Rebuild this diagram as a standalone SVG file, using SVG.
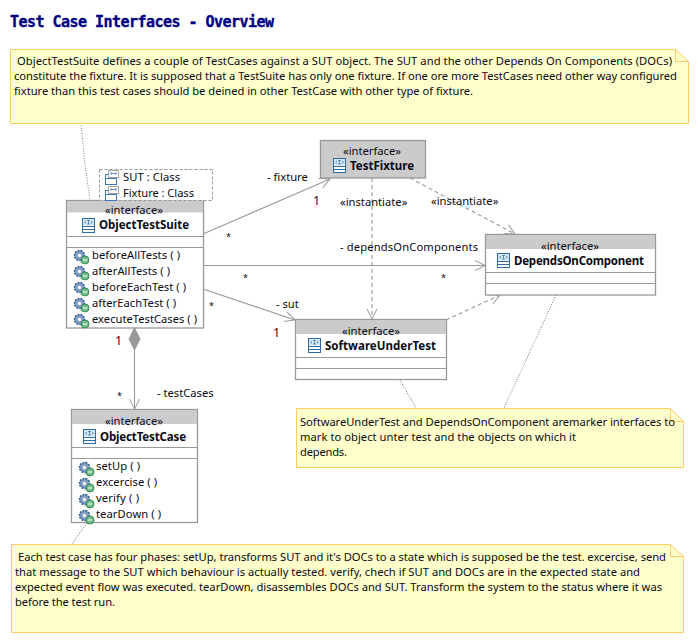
<svg xmlns="http://www.w3.org/2000/svg" xmlns:xlink="http://www.w3.org/1999/xlink" width="698" height="642" viewBox="0 0 698 642">
<style>
text{font-family:"Noto Sans","Liberation Sans",sans-serif;font-size:11.2px;fill:#0a0a14}
.title{font-family:"DejaVu Sans Mono",monospace;font-weight:700;font-size:15px;fill:#000080;stroke:#000080;stroke-width:.35}
.b{font-weight:700;font-size:11.5px}
.m{text-anchor:middle}
.note{fill:#ffffcb;stroke:#ffcb66;stroke-width:1}
.fold{fill:none;stroke:#ffcb66;stroke-width:1}
.box{fill:#fff;stroke:#999;stroke-width:1.3}
.hdr{fill:#cbcbcb}
.sep{stroke:#999;stroke-width:1}
.c{fill:none;stroke:#999;stroke-width:1.1}
.d{stroke-dasharray:4 3}
.o{stroke-dasharray:1 1.5;stroke:#888}
.red{fill:#4a0018;font-size:12.5px}
.s{font-size:9px}
</style>
<defs>
<marker id="open" markerUnits="userSpaceOnUse" markerWidth="14" markerHeight="14" refX="12" refY="7" orient="auto"><path d="M2 2 12 7 2 12" fill="none" stroke="#999" stroke-width="1"/></marker>
<g id="iface"><rect x="0.5" y="0.5" width="12" height="14" fill="#fff" stroke="#2f6aa3"/><rect x="1" y="1" width="11" height="6.5" fill="#d6e8f6"/><path d="M0.5 8.5H12.5M0.5 11.5H12.5" stroke="#2f6aa3"/><path d="M5 2.5H8M6.5 2.5V6M5 6H8M4 3 2.5 4.3 4 5.5M9 3 10.5 4.3 9 5.5" stroke="#2f6aa3" stroke-width=".7" fill="none"/></g>
<g id="op"><circle cx="6.5" cy="6.5" r="5" fill="#7e9cc0" stroke="#35608f" stroke-width="1.6" stroke-dasharray="1.8 1.2"/><circle cx="6.5" cy="6.5" r="1.8" fill="#fff"/><circle cx="12" cy="11" r="4" fill="#6fbf8a" stroke="#3a8a58"/><path d="M10 11H14" stroke="#fff"/></g>
<g id="tp"><rect x="0.5" y="4.5" width="11" height="10" fill="#fff" stroke="#3c78b4"/><path d="M0.5 8.5H11.5" stroke="#3c78b4"/><rect x="3.5" y="0.5" width="10" height="7" fill="#fff" stroke="#555" stroke-dasharray="1 1"/><path d="M6 3.5H11M6 2V5M11 2V5" stroke="#3c78b4" stroke-width=".8"/></g>
</defs>
<rect width="698" height="642" fill="#fff"/>
<text class="title" x="10" y="27" textLength="264">Test Case Interfaces - Overview</text>

<g id="connectors">
<path class="c o" d="M81 123 85 165 90 200"/>
<path class="c o" d="M556 295 504 408"/>
<path class="c o" d="M400 380 416 408"/>
<path class="c o" d="M87 523 72 544"/>
<path class="c" d="M203 234 330 179" marker-end="url(#open)"/>
<path class="c" d="M203 265.5H485" marker-end="url(#open)"/>
<path class="c" d="M203 289 295 320" marker-end="url(#open)"/>
<path class="c" d="M134.5 350V409" marker-end="url(#open)"/>
<path d="M134.5 328 140 339 134.5 350 129 339Z" fill="#999" stroke="#999"/>
<path class="c d" d="M372 178V319" marker-end="url(#open)"/>
<path class="c d" d="M410 178 515 234" marker-end="url(#open)"/>
<path class="c d" d="M446 320 500 295" marker-end="url(#open)"/>
</g>

<g id="note-suite">
<path class="note" d="M10.5 49.5H675.5L688.5 61.5V123.5H10.5Z"/><path class="fold" d="M675.5 49.5V61.5H688.5"/>
<text x="17" y="65" textLength="655">ObjectTestSuite defines a couple of TestCases against a SUT object. The SUT and the other Depends On Components (DOCs)</text>
<text x="14" y="80" textLength="663">constitute the fixture. It is supposed that a TestSuite has only one fixture. If one ore more TestCases need other way configured</text>
<text x="14" y="95" textLength="459">fixture than this test cases should be deined in other TestCase with other type of fixture.</text>
</g>

<g id="node-suite">
<rect class="box" x="66.5" y="200.5" width="137" height="127.5"/>
<rect class="hdr" x="67" y="201" width="136" height="11.5"/>
<path class="sep" d="M67 236.5H203M67 247.5H203"/>
<text class="m" x="134" y="214">«interface»</text>
<use xlink:href="#iface" x="82" y="218"/>
<text class="b" x="99" y="229" textLength="90">ObjectTestSuite</text>
<use xlink:href="#op" x="73" y="249"/><text x="92" y="259" textLength="88">beforeAllTests ( )</text>
<use xlink:href="#op" x="73" y="265"/><text x="92" y="275" textLength="78">afterAllTests ( )</text>
<use xlink:href="#op" x="73" y="281"/><text x="92" y="291" textLength="94">beforeEachTest ( )</text>
<use xlink:href="#op" x="73" y="297"/><text x="92" y="307" textLength="84">afterEachTest ( )</text>
<use xlink:href="#op" x="73" y="313"/><text x="92" y="323" textLength="105">executeTestCases ( )</text>
</g>
<g id="template-suite">
<rect x="99.5" y="169.5" width="113" height="31" fill="#fff" stroke="#999" stroke-dasharray="3 2"/>
<use xlink:href="#tp" x="105" y="170"/><text x="123" y="181" textLength="57">SUT : Class</text>
<use xlink:href="#tp" x="105" y="186"/><text x="123" y="197" textLength="71">Fixture : Class</text>
</g>

<g id="node-fixture">
<rect class="box" x="320.5" y="140.5" width="105" height="37.5" style="fill:#cbcbcb"/>
<text class="m" x="372" y="155">«interface»</text>
<use xlink:href="#iface" x="333" y="158"/>
<text class="b" x="350" y="170" textLength="64">TestFixture</text>
</g>

<g id="node-doc">
<rect class="box" x="485.5" y="234.5" width="170" height="60.5"/>
<rect class="hdr" x="486" y="235" width="169" height="14"/>
<path class="sep" d="M486 272.5H655M486 283.5H655"/>
<text class="m" x="570" y="250">«interface»</text>
<use xlink:href="#iface" x="497" y="253"/>
<text class="b" x="514" y="265" textLength="130">DependsOnComponent</text>
</g>

<g id="node-sut">
<rect class="box" x="295.5" y="319.5" width="151" height="60"/>
<rect class="hdr" x="296" y="320" width="150" height="14"/>
<path class="sep" d="M296 357.5H446M296 368.5H446"/>
<text class="m" x="371" y="335">«interface»</text>
<use xlink:href="#iface" x="308" y="338"/>
<text class="b" x="325" y="350" textLength="111">SoftwareUnderTest</text>
</g>

<g id="node-testcase">
<rect class="box" x="71.5" y="409.5" width="126" height="113"/>
<rect class="hdr" x="72" y="410" width="125" height="14"/>
<path class="sep" d="M72 447.5H197M72 458.5H197"/>
<text class="m" x="134" y="425">«interface»</text>
<use xlink:href="#iface" x="83" y="429"/>
<text class="b" x="100" y="441" textLength="86">ObjectTestCase</text>
<use xlink:href="#op" x="78" y="461"/><text x="96" y="470" textLength="44">setUp ( )</text>
<use xlink:href="#op" x="78" y="477"/><text x="96" y="486" textLength="61">excercise ( )</text>
<use xlink:href="#op" x="78" y="493"/><text x="96" y="502" textLength="43">verify ( )</text>
<use xlink:href="#op" x="78" y="509"/><text x="96" y="518" textLength="65">tearDown ( )</text>
</g>

<g id="note-markers">
<path class="note" d="M296.5 408.5H670.5L683.5 421.5V467.5H296.5Z"/><path class="fold" d="M670.5 408.5V421.5H683.5"/>
<text x="300" y="426" textLength="375">SoftwareUnderTest and DependsOnComponent aremarker interfaces to</text>
<text x="300" y="441" textLength="276">mark to object unter test and the objects on which it</text>
<text x="300" y="456" textLength="47">depends.</text>
</g>

<g id="note-phases">
<path class="note" d="M11.5 544.5H670.5L683.5 556.5V632.5H11.5Z"/><path class="fold" d="M670.5 544.5V556.5H683.5"/>
<text x="18" y="561" textLength="648">Each test case has four phases: setUp, transforms SUT and it's DOCs to a state which is supposed be the test. excercise, send</text>
<text x="15" y="576" textLength="625">that message to the SUT which behaviour is actually tested. verify, chech if SUT and DOCs are in the expected state and</text>
<text x="15" y="591" textLength="647">expected event flow was executed. tearDown, disassembles DOCs and SUT. Transform the system to the status where it was</text>
<text x="15" y="606" textLength="100">before the test run.</text>
</g>

<g id="labels">
<text x="267" y="181">- fixture</text>
<text class="red" x="313" y="205">1</text>
<text class="s" x="226" y="240">*</text>
<text x="340" y="206">«instantiate»</text>
<text x="431" y="205">«instantiate»</text>
<text x="340" y="251" textLength="138">- dependsOnComponents</text>
<text class="s" x="243" y="281">*</text>
<text class="s" x="441" y="281">*</text>
<text class="s" x="209" y="309">*</text>
<text x="276" y="308">- sut</text>
<text class="red" x="273" y="337">1</text>
<text class="red" x="115" y="345">1</text>
<text class="s" x="117" y="399">*</text>
<text x="157" y="397">- testCases</text>
</g>
</svg>
